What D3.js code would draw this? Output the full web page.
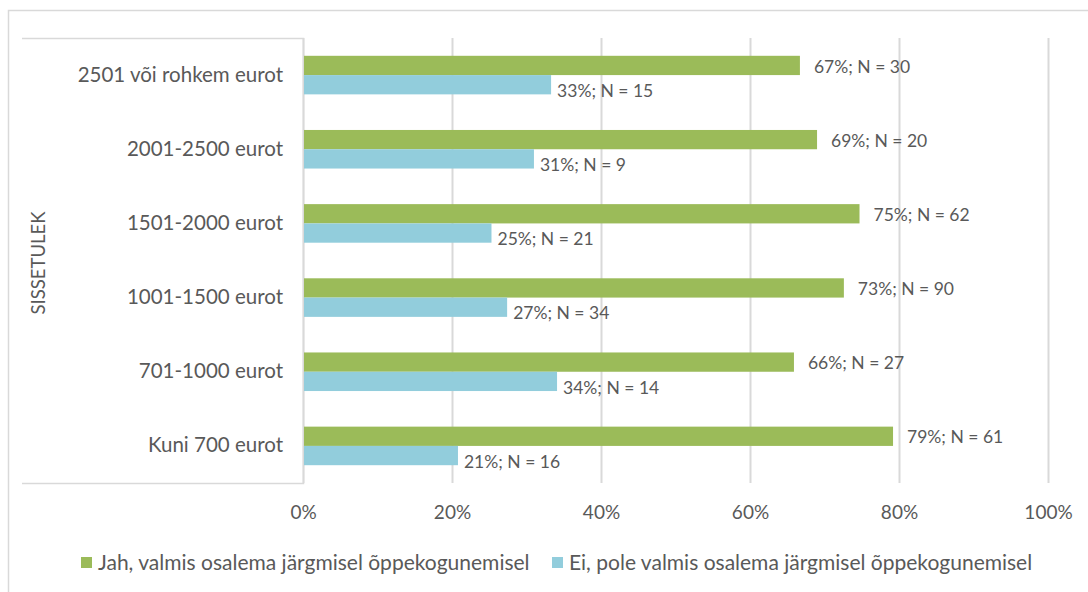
<!DOCTYPE html>
<html>
<head>
<meta charset="utf-8">
<script src="https://cdn.jsdelivr.net/npm/d3@7"></script>
<style>
	body { margin: 0; background: #fff; }
	text { font-family: Lato, "Liberation Sans", sans-serif; fill: #595959; }
</style>
</head>
<body>
<script>
(function(){

// data
var categories = ["2501 või rohkem eurot", "2001-2500 eurot", "1501-2000 eurot", "1001-1500 eurot", "701-1000 eurot", "Kuni 700 eurot"];
var yesShare = [0.667, 0.690, 0.747, 0.726, 0.659, 0.792];
var noShare  = [0.333, 0.310, 0.253, 0.274, 0.341, 0.208];
var yesN = [30, 20, 62, 90, 27, 61];
var noN  = [15, 9, 21, 34, 14, 16];
var ticks = [0, 0.2, 0.4, 0.6, 0.8, 1];
var seriesNames = ["Jah, valmis osalema järgmisel õppekogunemisel", "Ei, pole valmis osalema järgmisel õppekogunemisel"];
var colors = ["#9bbb59", "#92cddc"];

var config = {
	width: 1088,
	height: 592,
	plot: { left: 303, right: 1048, top: 38, bottom: 483 },
	catFont: 20.5,
	tickFont: 19,
	labelFont: 17.5,
	legendFont: 21
};

function addSvg(){
	return d3.select("body")
	.append("svg")
	.attr("width", config.width)
	.attr("height", config.height);
}

function label(share, n){
	return Math.round(share * 100) + "%; N = " + n;
}

function drawFrame(svg){
	svg.append("rect")
	.attr("x", 8.5).attr("y", 10.5)
	.attr("width", 1200).attr("height", 700)
	.attr("fill", "none")
	.attr("stroke", "#d9d9d9")
	.attr("stroke-width", 1.5);

	var p = config.plot;
	svg.append("path")
	.attr("d", "M22," + (p.top + 0.5) + "H" + (p.left + 0.5) + "V" + (p.bottom + 0.5) + "H22")
	.attr("fill", "none")
	.attr("stroke", "#d9d9d9")
	.attr("stroke-width", 1.5);
}

function plotGraph(){
	var svg = addSvg();
	var p = config.plot;
	drawFrame(svg);

	var x = d3.scaleLinear().domain([0, 1]).range([p.left, p.right]);
	var y = d3.scaleBand().domain(categories).range([p.top, p.bottom])
		.paddingInner(0.48).paddingOuter(0.24);
	var sub = d3.scaleBand().domain([0, 1]).range([0, y.bandwidth()]);

	// gridlines
	svg.append("g")
	.selectAll("line")
	.data(ticks)
	.join("line")
	.attr("x1", function(d){ return Math.round(x(d)) + 0.5; })
	.attr("x2", function(d){ return Math.round(x(d)) + 0.5; })
	.attr("y1", p.top)
	.attr("y2", p.bottom)
	.attr("stroke", "#d9d9d9")
	.attr("stroke-width", 2);

	// x axis
	var xAxis = svg.append("g")
	.attr("transform", "translate(0," + (p.bottom + 36) + ")")
	.call(d3.axisBottom(x).tickValues(ticks).tickFormat(d3.format(".0%")).tickSize(0).tickPadding(0));
	xAxis.select(".domain").remove();
	xAxis.selectAll("text")
	.attr("dy", "0")
	.style("font-size", config.tickFont + "px")
	.style("font-family", "Lato, 'Liberation Sans', sans-serif")
	.attr("fill", "#595959");

	// y axis labels
	var yAxis = svg.append("g")
	.attr("transform", "translate(" + (p.left - 20) + ",0)")
	.call(d3.axisLeft(y).tickSize(0).tickPadding(0));
	yAxis.select(".domain").remove();
	yAxis.selectAll("text")
	.style("font-size", config.catFont + "px")
	.style("font-family", "Lato, 'Liberation Sans', sans-serif")
	.attr("fill", "#595959");

	svg.append("text")
	.attr("transform", "translate(45,263) rotate(-90)")
	.attr("text-anchor", "middle")
	.style("font-size", "18.5px")
	.text("SISSETULEK");

	var rows = categories.map(function(c, i){
		return { cat: c, vals: [yesShare[i], noShare[i]], ns: [yesN[i], noN[i]] };
	});

	rows.forEach(function(row){
		[0, 1].forEach(function(s){
			var y0 = y(row.cat) + sub(s);
			svg.append("rect")
			.attr("x", x(0) + 1)
			.attr("y", y0)
			.attr("width", x(row.vals[s]) - x(0) - 1)
			.attr("height", sub.bandwidth())
			.attr("fill", colors[s]);

			svg.append("text")
			.attr("x", x(row.vals[s]) + (s === 0 ? 14 : 6))
			.attr("y", y0 + sub.bandwidth() / 2 + (s === 0 ? 1 : 6))
			.attr("dy", "0.35em")
			.style("font-size", config.labelFont + "px")
			.text(label(row.vals[s], row.ns[s]));
		});
	});

	// legend
	var legendX = [81, 552];
	seriesNames.forEach(function(name, s){
		svg.append("rect")
		.attr("x", legendX[s]).attr("y", 557)
		.attr("width", 11).attr("height", 11)
		.attr("fill", colors[s]);
		svg.append("text")
		.attr("x", legendX[s] + 17)
		.attr("y", 563)
		.attr("dy", "0.35em")
		.style("font-size", config.legendFont + "px")
		.text(name);
	});
}

plotGraph();

})();
</script>
</body>
</html>
